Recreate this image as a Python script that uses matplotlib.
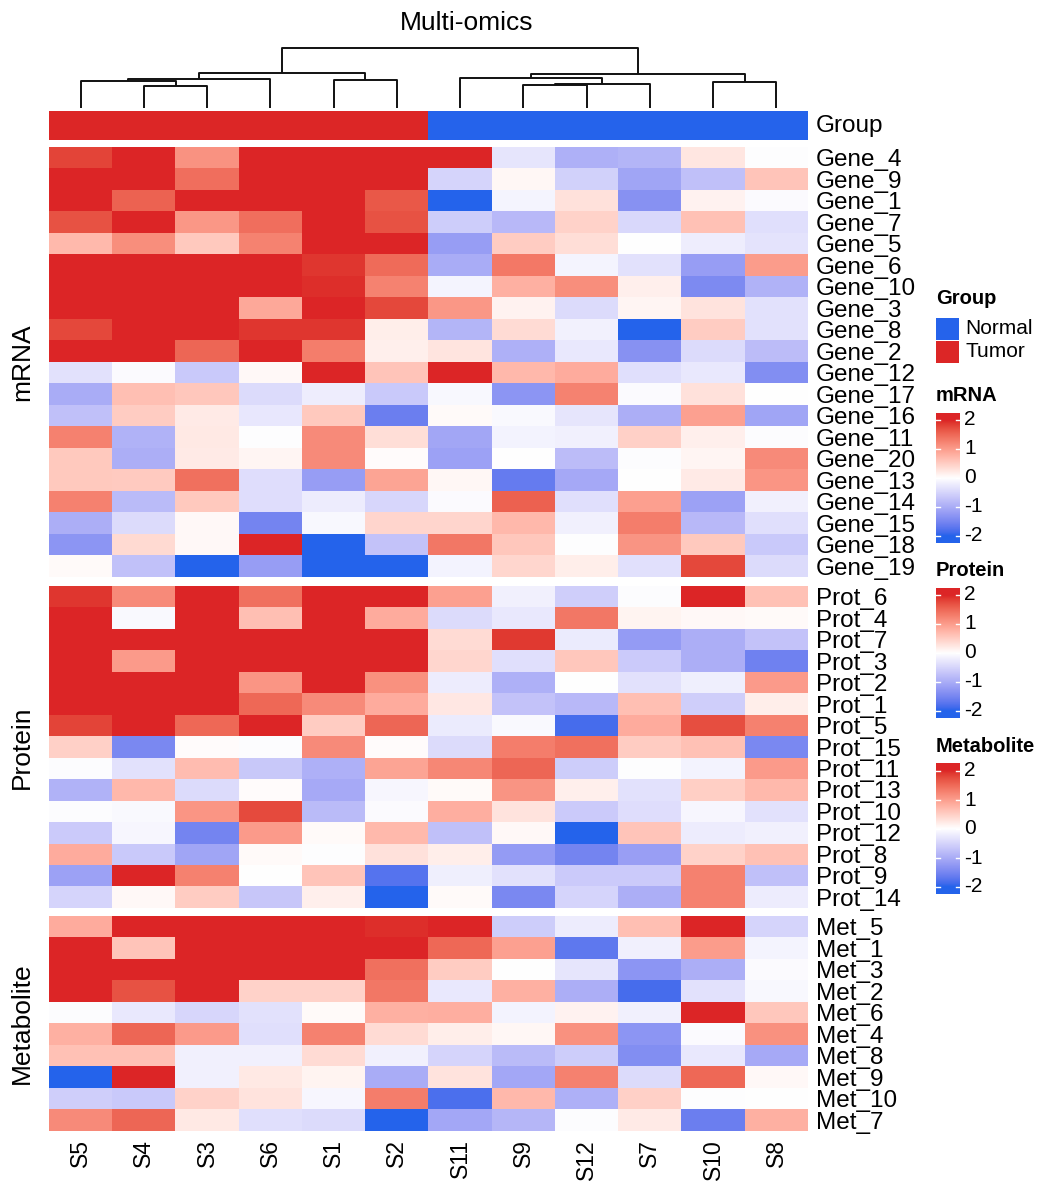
import numpy as np
import matplotlib
matplotlib.use("Agg")
import matplotlib.pyplot as plt
from matplotlib.colors import ListedColormap, to_rgb
from matplotlib.patches import Rectangle

plt.rcParams['font.family'] = ['Liberation Sans', 'DejaVu Sans']

# ---- data ----
samples = ["S5", "S4", "S3", "S6", "S1", "S2", "S11", "S9", "S12", "S7", "S10", "S8"]
groups = ["Tumor"] * 6 + ["Normal"] * 6

# column dendrogram: (left, right, merge height)
tree_left = ((("S5", ("S4", "S3", 22.6), 27.6), "S6", 29.0), ("S1", "S2", 28.6), 35.3)
tree_right = (("S11", (("S9", "S12", 23.0), "S7", 24.6), 30.0), ("S10", "S8", 26.0), 34.0)
tree = (tree_left, tree_right, 60.0)

genes = ["Gene_4", "Gene_9", "Gene_1", "Gene_7", "Gene_5", "Gene_6", "Gene_10", "Gene_3",
         "Gene_8", "Gene_2", "Gene_12", "Gene_17", "Gene_16", "Gene_11", "Gene_20",
         "Gene_13", "Gene_14", "Gene_15", "Gene_18", "Gene_19"]
mrna = np.array([
    [1.80, 2.30, 1.10, 2.30, 2.30, 2.30, 2.30, -0.30, -0.95, -0.90, 0.25, -0.02],
    [2.20, 2.20, 1.45, 2.30, 2.20, 2.20, -0.50, 0.08, -0.55, -1.10, -0.75, 0.60],
    [2.20, 1.55, 2.30, 2.20, 2.40, 1.65, -2.20, -0.12, 0.30, -1.35, 0.12, -0.05],
    [1.70, 2.30, 1.05, 1.45, 2.20, 1.70, -0.60, -0.85, 0.45, -0.45, 0.62, -0.38],
    [0.70, 1.15, 0.55, 1.25, 2.20, 2.20, -1.20, 0.52, 0.33, 0.00, -0.20, -0.33],
    [2.30, 2.30, 2.30, 2.30, 1.90, 1.48, -1.00, 1.35, -0.12, -0.35, -1.20, 1.00],
    [2.30, 2.30, 2.30, 2.30, 1.95, 1.25, -0.12, 0.80, 1.15, 0.15, -1.45, -0.93],
    [2.30, 2.30, 2.30, 0.88, 2.20, 1.78, 1.05, 0.12, -0.42, 0.09, 0.28, -0.35],
    [1.78, 2.30, 2.30, 1.90, 1.90, 0.18, -0.90, 0.36, -0.15, -2.30, 0.52, -0.35],
    [2.20, 2.20, 1.52, 2.20, 1.30, 0.15, 0.26, -0.95, -0.27, -1.35, -0.43, -0.80],
    [-0.35, -0.05, -0.65, 0.07, 2.20, 0.60, 2.20, 0.72, 0.85, -0.38, -0.26, -1.40],
    [-1.00, 0.65, 0.57, -0.42, -0.20, -0.65, -0.08, -1.30, 1.25, -0.05, 0.30, 0.00],
    [-0.75, 0.52, 0.20, -0.28, 0.55, -1.60, 0.04, -0.07, -0.30, -0.98, 0.95, -1.10],
    [1.27, -0.92, 0.22, -0.01, 1.17, 0.33, -1.08, -0.14, -0.18, 0.47, 0.15, -0.03],
    [0.55, -0.98, 0.20, 0.09, 1.17, 0.03, -1.15, 0.00, -0.80, -0.03, 0.10, 1.17],
    [0.55, 0.53, 1.43, -0.40, -1.20, 0.92, 0.08, -1.65, -1.05, 0.00, 0.20, 1.07],
    [1.27, -0.82, 0.55, -0.40, -0.22, -0.48, -0.05, 1.57, -0.38, 0.98, -1.15, -0.18],
    [-0.98, -0.42, 0.07, -1.52, -0.08, 0.42, 0.42, 0.72, -0.18, 1.30, -0.85, -0.38],
    [-1.30, 0.37, 0.07, 2.30, -2.30, -0.72, 1.37, 0.57, -0.02, 1.08, 0.55, -0.65],
    [0.05, -0.73, -2.30, -1.20, -2.30, -2.30, -0.14, 0.40, 0.18, -0.36, 1.78, -0.42],
])

proteins = ["Prot_6", "Prot_4", "Prot_7", "Prot_3", "Prot_2", "Prot_1", "Prot_5", "Prot_15",
            "Prot_11", "Prot_13", "Prot_10", "Prot_12", "Prot_8", "Prot_9", "Prot_14"]
protein = np.array([
    [1.90, 1.17, 2.30, 1.42, 2.30, 2.30, 0.96, -0.17, -0.58, -0.03, 2.20, 0.63],
    [2.30, -0.07, 2.30, 0.65, 2.30, 0.85, -0.43, -0.26, 1.37, 0.11, 0.07, 0.05],
    [2.30, 2.30, 2.30, 2.30, 2.30, 2.30, 0.36, 1.88, -0.23, -1.22, -0.97, -0.72],
    [2.30, 1.02, 2.30, 2.30, 2.30, 2.30, 0.40, -0.38, 0.56, -0.63, -0.97, -1.57],
    [2.30, 2.30, 2.30, 1.07, 2.30, 1.12, -0.22, -0.95, 0.00, -0.35, -0.19, 1.02],
    [2.20, 2.20, 2.20, 1.50, 1.17, 0.85, 0.24, -0.72, -0.84, 0.65, -0.58, 0.18],
    [1.80, 2.30, 1.50, 2.30, 0.52, 1.52, -0.23, -0.07, -1.85, 0.85, 1.72, 1.27],
    [0.47, -1.48, 0.03, -0.03, 1.17, 0.03, -0.43, 1.30, 1.43, 0.52, 0.62, -1.47],
    [-0.03, -0.35, 0.67, -0.66, -0.95, 0.93, 1.20, 1.52, -0.60, -0.01, -0.14, 1.02],
    [-0.92, 0.72, -0.42, 0.03, -1.03, -0.10, 0.05, 1.08, 0.15, -0.35, 0.48, 0.70],
    [-0.03, -0.07, 1.07, 1.75, -0.82, -0.04, 0.82, 0.28, -0.63, -0.40, -0.10, -0.35],
    [-0.62, -0.10, -1.52, 1.02, 0.05, 0.70, -0.75, 0.07, -2.20, 0.60, -0.22, -0.18],
    [0.85, -0.65, -1.10, 0.04, -0.01, 0.30, 0.18, -1.22, -1.52, -1.17, 0.45, 0.62],
    [-1.15, 2.30, 1.27, 0.00, 0.60, -1.75, -0.19, -0.35, -0.63, -0.63, 1.27, -0.76],
    [-0.50, 0.07, 0.52, -0.68, 0.15, -2.10, 0.04, -1.48, -0.50, -0.97, 1.27, -0.22],
])

metabolites = ["Met_5", "Met_1", "Met_3", "Met_2", "Met_6", "Met_4", "Met_8", "Met_9",
               "Met_10", "Met_7"]
metabolite = np.array([
    [0.85, 2.30, 2.30, 2.30, 2.30, 1.95, 2.20, -0.60, -0.22, 0.64, 2.20, -0.50],
    [2.30, 0.60, 2.30, 2.00, 2.30, 2.30, 1.50, 0.95, -1.70, -0.17, 1.00, -0.12],
    [2.30, 2.30, 2.30, 2.30, 2.30, 1.42, 0.52, 0.00, -0.30, -1.30, -0.97, -0.04],
    [2.30, 1.70, 2.30, 0.45, 0.45, 1.37, -0.27, 0.80, -0.97, -1.85, -0.35, -0.08],
    [-0.03, -0.26, -0.48, -0.35, 0.04, 0.80, 0.82, -0.14, 0.12, -0.17, 2.30, 0.57],
    [0.80, 1.52, 1.02, -0.38, 1.27, 0.36, 0.17, 0.08, 1.12, -1.30, -0.04, 1.12],
    [0.62, 0.62, -0.18, -0.18, 0.36, -0.17, -0.50, -0.82, -0.60, -1.40, -0.26, -1.03],
    [-2.10, 2.30, -0.18, 0.22, 0.11, -1.00, 0.28, -1.07, 1.27, -0.42, 1.50, 0.07],
    [-0.58, -0.65, 0.45, 0.28, -0.09, 1.30, -1.82, 0.72, -0.95, 0.47, -0.01, 0.00],
    [1.17, 1.52, 0.22, -0.38, -0.43, -2.10, -1.07, -0.88, -0.03, 0.20, -1.60, 0.80],
])

# ---- colours: blue-white-red interpolated in LAB (like colorRamp2) ----
M = np.array([[0.4124, 0.3576, 0.1805], [0.2126, 0.7152, 0.0722], [0.0193, 0.1192, 0.9505]])
WP = np.array([0.95047, 1.0, 1.08883])


def to_lab(c):
    rgb = np.array(to_rgb(c))
    lin = np.where(rgb <= 0.04045, rgb / 12.92, ((rgb + 0.055) / 1.055) ** 2.4)
    xyz = M @ lin / WP
    f = np.where(xyz > 0.008856, np.cbrt(xyz), 7.787 * xyz + 16 / 116)
    return np.array([116 * f[1] - 16, 500 * (f[0] - f[1]), 200 * (f[1] - f[2])])


def from_lab(lab):
    fy = (lab[:, 0] + 16) / 116
    f = np.stack([fy + lab[:, 1] / 500, fy, fy - lab[:, 2] / 200], -1)
    xyz = np.where(f > 0.2069, f ** 3, (f - 16 / 116) / 7.787) * WP
    lin = xyz @ np.linalg.inv(M).T
    lin = np.clip(lin, 0, None)
    rgb = np.where(lin <= 0.0031308, 12.92 * lin, 1.055 * lin ** (1 / 2.4) - 0.055)
    return np.clip(rgb, 0, 1)


blue, red = "#2563EB", "#DC2626"
lb, lw_, lr = to_lab(blue), to_lab("white"), to_lab(red)
t = np.linspace(0, 1, 128)[:, None]
cmap = ListedColormap(np.vstack([from_lab(lb + (lw_ - lb) * t), from_lab(lw_ + (lr - lw_) * t)[1:]]))

# ---- layout helpers (pixel coords) ----
W, H = 1050, 1200
fig = plt.figure(figsize=(W / 100, H / 100), dpi=100)


def box(l, top, r, b):
    return fig.add_axes([l / W, 1 - b / H, (r - l) / W, (b - top) / H])


X0, X1 = 49, 808
ncol = len(samples)

# dendrogram
axd = box(X0, 46, X1, 110)
pos = {s: i + 0.5 for i, s in enumerate(samples)}


def draw_tree(node):
    if isinstance(node, str):
        return pos[node], 0.0
    a, b, h = node
    xa, ha = draw_tree(a)
    xb, hb = draw_tree(b)
    axd.plot([xa, xa, xb, xb], [ha, h, h, hb], color="#111111", lw=1.4, solid_capstyle="butt")
    return (xa + xb) / 2, h


draw_tree(tree)
axd.set_xlim(0, ncol)
axd.set_ylim(-1.7, 62.3)
axd.axis("off")

# group annotation
axg = box(X0, 111, X1, 140)
gcodes = np.array([[0 if g == "Normal" else 1 for g in groups]])
axg.imshow(gcodes, cmap=ListedColormap([blue, red]), vmin=0, vmax=1, aspect="auto",
           interpolation="nearest", extent=(0, ncol, 1, 0))
axg.axis("off")
fig.text(816 / W, 1 - 126 / H, "Group", fontsize=17.5, ha="left", va="center")


def draw_block(top, bottom, vals, names, title):
    ax = box(X0, top, X1, bottom)
    ax.imshow(vals, cmap=cmap, vmin=-2, vmax=2, aspect="auto", interpolation="nearest",
              extent=(0, ncol, len(names), 0))
    ax.set_yticks(np.arange(len(names)) + 0.5)
    ax.set_yticklabels(names, fontsize=17.5)
    ax.yaxis.tick_right()
    ax.tick_params(axis="y", length=0, pad=5.5)
    ax.set_xticks([])
    for s in ax.spines.values():
        s.set_visible(False)
    fig.text(22 / W, 1 - (top + bottom) / 2 / H, title, fontsize=19, rotation=90,
             ha="center", va="center")
    return ax


draw_block(147, 577, mrna, genes, "mRNA")
draw_block(586, 908, protein, proteins, "Protein")
axm = draw_block(916, 1131, metabolite, metabolites, "Metabolite")
axm.set_xticks(np.arange(ncol) + 0.5)
axm.set_xticklabels(samples, rotation=90, fontsize=16.5, va="top")
axm.tick_params(axis="x", length=0, pad=6)

fig.text(467 / W, 1 - 23 / H, "Multi-omics", fontsize=19, ha="center", va="center")

# ---- legends ----
axl = box(925, 280, 1050, 900)
axl.text(936, 299, "Group", fontsize=14.5, fontweight="bold", ha="left", va="center")
for i, (lab, col) in enumerate([("Normal", blue), ("Tumor", red)]):
    y = 318 + i * 23
    axl.add_patch(Rectangle((936, y), 23, 22, facecolor=col, edgecolor="none"))
    axl.text(965, y + 11, lab, fontsize=15, ha="left", va="center")

grad = np.linspace(2.24, -2.24, 200)[:, None]
for title, ty, yc in [("mRNA", 396, 478), ("Protein", 571, 653), ("Metabolite", 747, 829)]:
    axl.text(936, ty, title, fontsize=14.5, fontweight="bold", ha="left", va="center")
    axl.imshow(grad, cmap=cmap, vmin=-2, vmax=2, aspect="auto", interpolation="bilinear",
               extent=(936, 960, yc + 65, yc - 65))
    for v in [2, 1, 0, -1, -2]:
        y = yc - v * 29
        axl.plot([936, 940], [y, y], color="white", lw=1)
        axl.plot([956, 960], [y, y], color="white", lw=1)
        axl.text(964, y, str(v), fontsize=15, ha="left", va="center")
axl.set_xlim(925, 1050)
axl.set_ylim(900, 280)
axl.axis("off")

fig.savefig("out.png", dpi=100)
